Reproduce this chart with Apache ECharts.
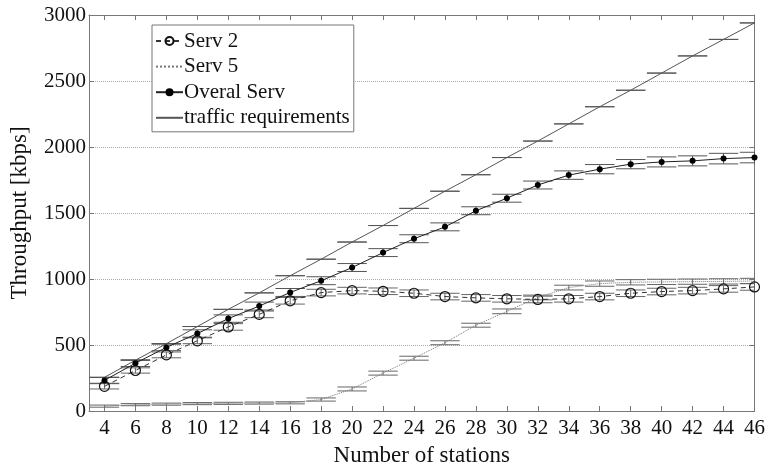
<!DOCTYPE html>
<html>
<head>
<meta charset="utf-8">
<script src="https://cdn.jsdelivr.net/npm/echarts@6/dist/echarts.min.js"></script>
<style>
  html, body { margin: 0; padding: 0; background: #fff; }
  #chart { width: 768px; height: 472px; }
</style>
</head>
<body>
<div id="chart"></div>
<script>
var stations = [4, 6, 8, 10, 12, 14, 16, 18, 20, 22, 24, 26, 28, 30, 32, 34, 36, 38, 40, 42, 44, 46];
var xTicks = [4, 6, 8, 10, 12, 14, 16, 18, 20, 22, 24, 26, 28, 30, 32, 34, 36, 38, 40, 42, 44, 46];

var serv2 = [187, 307, 425, 532, 637, 732, 835, 897, 912, 907, 892, 867, 857, 850, 845, 850, 867, 892, 905, 912, 925, 940];
var serv2Err = [20, 20, 22, 22, 25, 25, 25, 25, 25, 25, 25, 25, 25, 25, 25, 25, 25, 25, 25, 25, 25, 25];

var serv5 = [37, 48, 52, 56, 58, 60, 62, 87, 167, 287, 400, 517, 650, 755, 860, 935, 965, 975, 978, 980, 982, 985];
var serv5Err = [8, 8, 8, 8, 8, 8, 8, 12, 15, 15, 15, 15, 15, 18, 18, 18, 20, 20, 20, 20, 20, 20];

var overal = [232, 362, 482, 587, 700, 795, 898, 987, 1087, 1200, 1305, 1395, 1517, 1612, 1712, 1787, 1832, 1870, 1887, 1895, 1912, 1920];
var overalErr = [22, 25, 25, 28, 28, 30, 30, 30, 30, 30, 30, 30, 30, 30, 30, 32, 35, 35, 38, 38, 40, 40];

var traffic = [255, 385, 510, 640, 770, 895, 1025, 1150, 1280, 1405, 1535, 1665, 1790, 1920, 2045, 2175, 2305, 2430, 2560, 2690, 2815, 2940];
var trafficErr = [0, 0, 0, 0, 0, 0, 0, 0, 0, 0, 0, 0, 0, 0, 0, 0, 0, 0, 0, 0, 0, 0];

var font = 'Liberation Serif';
var capHalf = 0.95;

function pairs(vals) {
  return stations.map(function (x, i) { return [x, vals[i]]; });
}

function errSeries(vals, errs, color, z) {
  return {
    type: 'custom',
    silent: true,
    clip: true,
    z: z,
    encode: { x: 0, y: [1, 2] },
    data: stations.map(function (x, i) { return [x, vals[i] - errs[i], vals[i] + errs[i]]; }),
    renderItem: function (params, api) {
      var x = api.value(0), lo = api.value(1), hi = api.value(2);
      var a = api.coord([x, lo]), b = api.coord([x, hi]);
      var l1 = api.coord([x - capHalf, lo]), r1 = api.coord([x + capHalf, lo]);
      var l2 = api.coord([x - capHalf, hi]), r2 = api.coord([x + capHalf, hi]);
      var style = { stroke: color, lineWidth: 1 };
      return {
        type: 'group',
        children: [
          { type: 'line', shape: { x1: a[0], y1: a[1], x2: b[0], y2: b[1] }, style: style },
          { type: 'line', shape: { x1: l1[0], y1: l1[1], x2: r1[0], y2: r1[1] }, style: style },
          { type: 'line', shape: { x1: l2[0], y1: l2[1], x2: r2[0], y2: r2[1] }, style: style }
        ]
      };
    }
  };
}

var axisColor = '#777';
var tickTxt = { fontFamily: font, fontSize: 21, color: '#111' };
var nameTxt = { fontFamily: font, fontSize: 23, color: '#111' };
var noSymbol = { color: 'rgba(0,0,0,0)', borderColor: 'rgba(0,0,0,0)', borderWidth: 0 };

var option = {
  animation: false,
  backgroundColor: '#fff',
  grid: { left: 88, right: 13, top: 15, bottom: 57 },
  legend: {
    orient: 'vertical',
    left: 152,
    top: 25,
    data: [
      { name: 'Serv 2' },
      { name: 'Serv 5', itemStyle: noSymbol },
      { name: 'Overal Serv' },
      { name: 'traffic requirements', itemStyle: noSymbol }
    ],
    backgroundColor: '#fff',
    borderColor: axisColor,
    borderWidth: 1,
    borderRadius: 0,
    padding: [5, 4, 3, 3],
    itemGap: 3.6,
    itemWidth: 27,
    itemHeight: 10,
    selectedMode: false,
    textStyle: { fontFamily: font, fontSize: 21, color: '#111', lineHeight: 22, padding: [0, 0, 0, -4] }
  },
  xAxis: [
    {
      type: 'value', min: 3, max: 46, position: 'bottom',
      name: 'Number of stations', nameLocation: 'middle', nameGap: 33,
      nameTextStyle: nameTxt,
      axisLine: { onZero: false, lineStyle: { color: axisColor } },
      axisTick: { inside: true, length: 5, customValues: xTicks, lineStyle: { color: axisColor } },
      axisLabel: Object.assign({ customValues: xTicks, margin: 7 }, tickTxt),
      splitLine: { show: false }
    },
    {
      type: 'value', min: 3, max: 46, position: 'top',
      axisLine: { onZero: false, lineStyle: { color: axisColor } },
      axisTick: { inside: true, length: 5, customValues: xTicks, lineStyle: { color: axisColor } },
      axisLabel: { show: false },
      splitLine: { show: false }
    }
  ],
  yAxis: [
    {
      type: 'value', min: 0, max: 3000, interval: 500, position: 'left',
      name: 'Throughput [kbps]', nameLocation: 'middle', nameGap: 58, nameRotate: 90,
      nameTextStyle: nameTxt,
      axisLine: { show: true, onZero: false, lineStyle: { color: axisColor } },
      axisTick: { show: true, inside: true, length: 5, lineStyle: { color: axisColor } },
      axisLabel: Object.assign({ margin: 3, formatter: function (v) { return String(v); } }, tickTxt),
      splitLine: { show: true, lineStyle: { type: 'dotted', color: '#aaa', width: 1 } }
    },
    {
      type: 'value', min: 0, max: 3000, interval: 500, position: 'right',
      axisLine: { show: true, onZero: false, lineStyle: { color: axisColor } },
      axisTick: { show: true, inside: true, length: 5, lineStyle: { color: axisColor } },
      axisLabel: { show: false },
      splitLine: { show: false }
    }
  ],
  series: [
    {
      name: 'traffic requirements', type: 'line', data: pairs(traffic), symbol: 'none', z: 3,
      lineStyle: { color: '#555', width: 1 }, itemStyle: { color: '#555' }
    },
    errSeries(traffic, trafficErr, '#555', 3),
    {
      name: 'Serv 5', type: 'line', data: pairs(serv5), symbol: 'none', z: 3,
      lineStyle: { color: '#777', width: 1, type: 'dotted' }, itemStyle: { color: '#777' }
    },
    errSeries(serv5, serv5Err, '#666', 3),
    errSeries(serv2, serv2Err, '#666', 3),
    {
      name: 'Serv 2', type: 'line', data: pairs(serv2), symbol: 'circle', symbolSize: 10, z: 4,
      lineStyle: { color: '#333', width: 1, type: [5, 4] },
      itemStyle: { color: 'rgba(0,0,0,0)', borderColor: '#111', borderWidth: 1.2 }
    },
    errSeries(overal, overalErr, '#555', 3),
    {
      name: 'Overal Serv', type: 'line', data: pairs(overal), symbol: 'circle', symbolSize: 6, z: 5,
      lineStyle: { color: '#222', width: 1 }, itemStyle: { color: '#000' }
    }
  ]
};

var myChart = echarts.init(document.getElementById('chart'));
myChart.setOption(option);
window.addEventListener('resize', function () {
  myChart.resize();
});
</script>
</body>
</html>
